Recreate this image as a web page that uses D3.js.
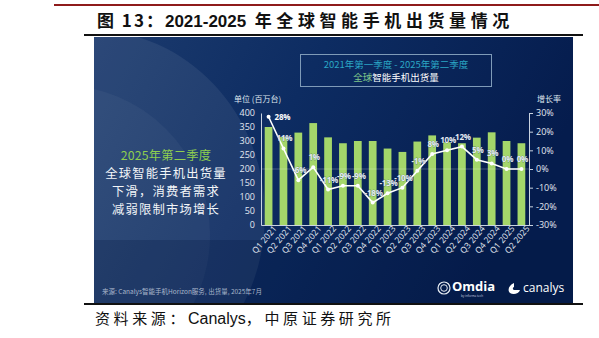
<!DOCTYPE html>
<html>
<head>
<meta charset="utf-8">
<script src="https://cdn.jsdelivr.net/npm/d3@7"></script>
<style>
  html, body { margin: 0; padding: 0; background: #ffffff; }
  svg { display: block; }
</style>
</head>
<body>
<svg id="chart" width="599" height="338"></svg>
<script>
const quarters = ["Q1 2021","Q2 2021","Q3 2021","Q4 2021","Q1 2022","Q2 2022","Q3 2022","Q4 2022","Q1 2023","Q2 2023","Q3 2023","Q4 2023","Q1 2024","Q2 2024","Q3 2024","Q4 2024","Q1 2025","Q2 2025"];
const shipments = [350, 315, 330, 364, 313, 292, 300, 300, 273, 261, 298, 320, 296, 292, 312, 331, 300, 292];
const growth = [28, 11, -6, 1, -11, -9, -9, -18, -13, -10, -1, 8, 10, 12, 5, 3, 0, 0];
const leftTicks = [0, 50, 100, 150, 200, 250, 300, 350, 400];
const rightTicks = [-30, -20, -10, 0, 10, 20, 30];

const svg = d3.select("#chart");
const defs = svg.append("defs");
const cjk = "'Noto Sans CJK SC', sans-serif";

// Page header
svg.append("rect").attr("x", 54).attr("y", 4).attr("width", 545).attr("height", 2).attr("fill", "#8e1b1b");
const title = svg.append("text").attr("x", 97).attr("y", 27)
  .attr("font-family", cjk).attr("font-weight", "bold")
  .attr("font-size", 17).attr("fill", "#111");
title.append("tspan").attr("letter-spacing", 2).text("图 13：");
title.append("tspan").attr("font-family", "'Liberation Sans', Arial, sans-serif").text("2021-2025");
title.append("tspan").attr("letter-spacing", 4.6).text(" 年全球智能手机出货量情况");
svg.append("rect").attr("x", 84).attr("y", 34).attr("width", 499).attr("height", 2).attr("fill", "#111");

// Panel background
const bg = defs.append("linearGradient").attr("id", "bg").attr("x1", 0).attr("y1", 0).attr("x2", 1).attr("y2", 0.3);
bg.append("stop").attr("offset", "0%").attr("stop-color", "#1c3b6e");
bg.append("stop").attr("offset", "45%").attr("stop-color", "#0d2c62");
bg.append("stop").attr("offset", "100%").attr("stop-color", "#051c4d");
const panel = {x: 94, y: 37, w: 479, h: 266};
defs.append("clipPath").attr("id", "pclip").append("rect")
  .attr("x", panel.x).attr("y", panel.y).attr("width", panel.w).attr("height", panel.h);
svg.append("rect").attr("x", panel.x).attr("y", panel.y).attr("width", panel.w).attr("height", panel.h).attr("fill", "url(#bg)");
const deco = svg.append("g").attr("clip-path", "url(#pclip)");
deco.append("ellipse").attr("cx", 90).attr("cy", 215).attr("rx", 175).attr("ry", 185)
  .attr("fill", "#ffffff").attr("fill-opacity", 0.07);
deco.append("ellipse").attr("cx", 60).attr("cy", 235).attr("rx", 150).attr("ry", 150)
  .attr("fill", "#ffffff").attr("fill-opacity", 0.04);
deco.append("rect").attr("x", panel.x).attr("y", 240).attr("width", panel.w).attr("height", 63)
  .attr("fill", "#041640").attr("fill-opacity", 0.25);
svg.append("rect").attr("x", 84).attr("y", 303).attr("width", 499).attr("height", 2).attr("fill", "#111");

// Title box
svg.append("rect").attr("x", 300.5).attr("y", 54.5).attr("width", 191).attr("height", 32)
  .attr("fill", "none").attr("stroke", "#7f9bb8").attr("stroke-width", 1);
svg.append("text").attr("x", 396).attr("y", 68).attr("text-anchor", "middle")
  .attr("font-family", cjk).attr("font-size", 9.5).attr("fill", "#2aa6c4")
  .text("2021年第一季度 - 2025年第二季度");
const t2 = svg.append("text").attr("x", 396).attr("y", 81).attr("text-anchor", "middle")
  .attr("font-family", cjk).attr("font-size", 9.5).attr("fill", "#ffffff");
t2.append("tspan").attr("fill", "#7fc58a").text("全球");
t2.append("tspan").text("智能手机出货量");

// Left text
const leftLines = ["2025年第二季度", "全球智能手机出货量", "下滑，消费者需求", "减弱限制市场增长"];
svg.append("g").selectAll("text").data(leftLines).join("text")
  .attr("x", 166).attr("y", (d, i) => 160 + i * 18)
  .attr("text-anchor", "middle")
  .attr("font-family", cjk)
  .attr("font-size", 12.3)
  .attr("letter-spacing", (d, i) => i === 0 ? 0.2 : 1.2)
  .attr("fill", (d, i) => i === 0 ? "#8fcf4f" : "#f2f5f8")
  .text(d => d);

// Scales
const x = d3.scaleBand().domain(quarters).range([261, 529]).paddingInner(0.48).paddingOuter(0.25);
const yL = d3.scaleLinear().domain([0, 400]).range([225, 113]);
const yR = d3.scaleLinear().domain([-30, 30]).range([225, 113]);
const axisColor = "#c9d3e0";
const font = "'Open Sans', 'Noto Sans', sans-serif";

// Bars
svg.append("g").selectAll("rect").data(shipments).join("rect")
  .attr("x", (d, i) => x(quarters[i]))
  .attr("y", d => yL(d))
  .attr("width", x.bandwidth())
  .attr("height", d => yL(0) - yL(d))
  .attr("fill", "#a4d66a");

// zero line
svg.append("line").attr("x1", 261).attr("x2", 529).attr("y1", yR(0)).attr("y2", yR(0))
  .attr("stroke", "#ffffff").attr("stroke-opacity", 0.3).attr("stroke-width", 0.8);

// Left axis
const gL = svg.append("g").attr("transform", "translate(261,0)")
  .call(d3.axisLeft(yL).tickValues(leftTicks).tickSize(0).tickPadding(6));
gL.select(".domain").attr("stroke", axisColor).attr("stroke-width", 1);
gL.selectAll("text").attr("fill", "#e3e9f1").attr("font-family", font).attr("font-size", 9);

// Right axis
const gR = svg.append("g").attr("transform", "translate(529,0)")
  .call(d3.axisRight(yR).tickValues(rightTicks).tickSize(4).tickPadding(3).tickFormat(d => d + "%"));
gR.select(".domain").attr("stroke", axisColor).attr("stroke-width", 1);
gR.selectAll("line").attr("stroke", axisColor);
gR.selectAll("text").attr("fill", "#e3e9f1").attr("font-family", font).attr("font-size", 9);

// Bottom axis
const gB = svg.append("g").attr("transform", "translate(0,225)")
  .call(d3.axisBottom(x).tickSize(0).tickPadding(4));
gB.select(".domain").attr("stroke", axisColor).attr("stroke-width", 1);
gB.selectAll("text")
  .attr("fill", "#e3e9f1").attr("font-family", font).attr("font-size", 8.5)
  .attr("text-anchor", "end").attr("dx", "0.3em").attr("dy", "0.6em")
  .attr("transform", "rotate(-50)");

// Axis titles
svg.append("text").attr("x", 234).attr("y", 102).attr("font-family", cjk)
  .attr("font-size", 8).attr("fill", "#dfe6ee").text("单位 (百万台)");
svg.append("text").attr("x", 537).attr("y", 102).attr("font-family", cjk)
  .attr("font-size", 8).attr("fill", "#dfe6ee").text("增长率");

// Growth line
const cx = i => x(quarters[i]) + x.bandwidth() / 2;
const line = d3.line().x((d, i) => cx(i)).y(d => yR(d));
svg.append("path").datum(growth).attr("d", line)
  .attr("fill", "none").attr("stroke", "#ffffff").attr("stroke-width", 1.6);
svg.append("g").selectAll("circle").data(growth).join("circle")
  .attr("cx", (d, i) => cx(i)).attr("cy", d => yR(d)).attr("r", 2)
  .attr("fill", "#ffffff");
svg.append("g").selectAll("text").data(growth).join("text")
  .attr("x", (d, i) => i === 0 ? cx(i) + 6 : cx(i) + 1)
  .attr("y", (d, i) => i === 0 ? yR(d) + 3 : yR(d) - 7)
  .attr("text-anchor", (d, i) => i === 0 ? "start" : "middle")
  .attr("font-family", font).attr("font-weight", "bold").attr("font-size", 8)
  .attr("letter-spacing", -0.2)
  .attr("fill", (d, i) => i === 0 ? "#ffffff" : "#e6ebf2")
  .attr("stroke", "#0d2c62").attr("stroke-width", 0.3).attr("paint-order", "stroke")
  .text(d => d + "%");

// Footer
svg.append("text").attr("x", 102).attr("y", 294).attr("font-family", cjk)
  .attr("font-size", 6.5).attr("fill", "#a9b7cb")
  .text("来源: Canalys智能手机Horizon服务, 出货量, 2025年7月");
// Omdia logo
const lg = svg.append("g");
lg.append("circle").attr("cx", 444).attr("cy", 288).attr("r", 6).attr("fill", "none").attr("stroke", "#e8edf3").attr("stroke-width", 1.2);
lg.append("circle").attr("cx", 444).attr("cy", 288).attr("r", 3.3).attr("fill", "none").attr("stroke", "#e8edf3").attr("stroke-width", 1);
lg.append("text").attr("x", 452).attr("y", 291).attr("font-family", "'Open Sans', sans-serif").attr("font-weight", "bold")
  .attr("font-size", 13).attr("fill", "#ffffff").text("Omdia");
lg.append("text").attr("x", 461).attr("y", 297).attr("font-family", "'Open Sans', sans-serif")
  .attr("font-size", 3).attr("fill", "#c9d3e0").text("by informa tech");
lg.append("path").attr("d", "M514,283 C509,285 507,290 510,293 C513,295 519,294 520,290 L514,290 C513,290 512,288 514,287 Z")
  .attr("fill", "#ffffff");
lg.append("text").attr("x", 523).attr("y", 292).attr("font-family", "'Open Sans', sans-serif")
  .attr("font-size", 12).attr("fill", "#ffffff").text("canalys");

// Source
const src = svg.append("text").attr("x", 95).attr("y", 324).attr("font-family", cjk)
  .attr("font-size", 15).attr("fill", "#111");
src.append("tspan").attr("letter-spacing", 3.6).text("资料来源：");
src.append("tspan").attr("font-family", "'Liberation Sans', Arial, sans-serif").attr("font-size", 16).text("Canalys");
src.append("tspan").attr("letter-spacing", 3.6).text("，中原证券研究所");
</script>
</body>
</html>
